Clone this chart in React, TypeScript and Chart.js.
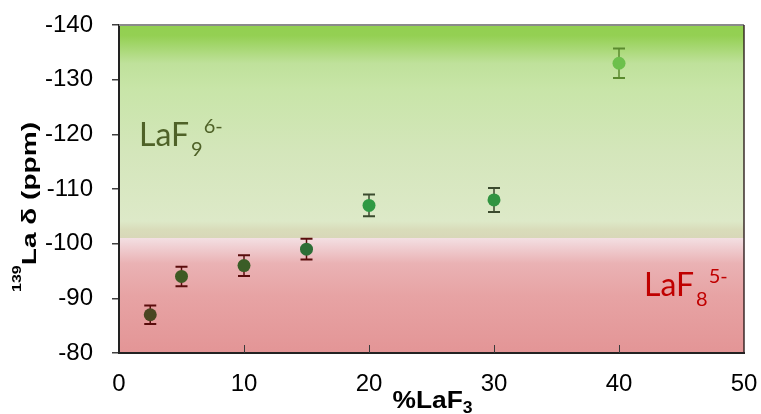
import { useEffect, useRef } from 'react';
import { Chart, registerables } from 'chart.js';

Chart.register(...registerables);

// ---- data ----
const xPercent = [2.5, 5, 10, 15, 20, 30, 40];
const shiftPpm = [-87, -94, -96, -99, -107, -108, -133];
const errorPpm = [1.7, 1.8, 1.9, 1.9, 2.0, 2.2, 2.7];
const pointColors = ['#4a4622', '#3e5a24', '#3b5d27', '#2d6e37', '#2f9943', '#319441', '#6cc04c'];
const errorColors = ['#5a0c0c', '#5a0c0c', '#5a0c0c', '#5a0c0c', '#3b4a2e', '#3b4a2e', '#5a8a2e'];
const xRange = [0, 50];
const yRange = [-140, -80];
const tickStep = 10;
const regionBoundary = -101;
const regionLabels = [
  { base: 'LaF', sub: '9', sup: '6-', x: 1.6, y: -117.9, color: '#4f6228' },
  { base: 'LaF', sub: '8', sup: '5-', x: 42, y: -90.5, color: '#c00000' },
];
const yTitleSup = '139';
const yTitleMain = 'La δ (ppm)';
const xTitleMain = '%LaF';
const xTitleSub = '3';

const SANS = '"Liberation Sans", Arial, sans-serif';
const LABEL_FONT = 'Lato, "Open Sans", sans-serif';

const decorPlugin = {
  id: 'decor',
  beforeDraw(chart: any) {
    const { ctx, chartArea: a, scales } = chart;
    const y = scales.y;
    const top = a.top;
    const h = a.bottom - a.top;
    const fb = (y.getPixelForValue(regionBoundary) - top) / h;
    const g = ctx.createLinearGradient(0, top, 0, a.bottom);
    const greenStops: [number, string][] = [
      [0, '#92d050'], [0.05, '#94d053'], [0.18, '#bfe19b'], [0.3, '#c8e5a8'],
      [0.6, '#d4e6bb'], [0.92, '#dde9c8'], [0.96, '#d9dcba'], [1, '#d8d7b8'],
    ];
    const redStops: [number, string][] = [
      [0, '#f3dfe2'], [0.1, '#efcacd'], [0.22, '#eab2b4'], [0.5, '#e7a3a4'], [1, '#e39596'],
    ];
    for (const [f, c] of greenStops) g.addColorStop(f * fb, c);
    for (const [f, c] of redStops) g.addColorStop(fb + f * (1 - fb), c);
    ctx.save();
    ctx.fillStyle = g;
    ctx.fillRect(a.left, top, a.right - a.left, h);
    ctx.restore();
  },
  beforeDatasetsDraw(chart: any) {
    const { ctx, chartArea: a, scales } = chart;
    const xs = scales.x;
    const ys = scales.y;
    ctx.save();
    // inward x tick marks
    ctx.strokeStyle = '#3a3a3a';
    ctx.lineWidth = 1;
    for (const t of xs.ticks) {
      if (t.value <= xRange[0] || t.value >= xRange[1]) continue;
      const px = Math.round(xs.getPixelForValue(t.value)) + 0.5;
      ctx.beginPath();
      ctx.moveTo(px, a.bottom);
      ctx.lineTo(px, a.bottom - 8);
      ctx.stroke();
    }
    // top and right frame
    ctx.strokeStyle = '#8a8a8a';
    ctx.lineWidth = 2;
    ctx.beginPath();
    ctx.moveTo(a.left, a.top);
    ctx.lineTo(a.right, a.top);
    ctx.stroke();
    ctx.strokeStyle = 'rgba(45,30,30,0.7)';
    ctx.beginPath();
    ctx.moveTo(a.right, a.top);
    ctx.lineTo(a.right, a.bottom);
    ctx.stroke();
    // error bars
    for (let i = 0; i < xPercent.length; i++) {
      const px = xs.getPixelForValue(xPercent[i]);
      const y1 = ys.getPixelForValue(shiftPpm[i] - errorPpm[i]);
      const y2 = ys.getPixelForValue(shiftPpm[i] + errorPpm[i]);
      ctx.strokeStyle = errorColors[i];
      ctx.lineWidth = 1.5;
      ctx.beginPath();
      ctx.moveTo(px, y1);
      ctx.lineTo(px, y2);
      ctx.stroke();
      ctx.lineWidth = 2;
      ctx.beginPath();
      ctx.moveTo(px - 6, y1);
      ctx.lineTo(px + 6, y1);
      ctx.moveTo(px - 6, y2);
      ctx.lineTo(px + 6, y2);
      ctx.stroke();
    }
    ctx.restore();
  },
  afterDraw(chart: any) {
    const { ctx, chartArea: a, scales } = chart;
    const xs = scales.x;
    const ys = scales.y;
    ctx.save();
    ctx.textBaseline = 'alphabetic';
    ctx.textAlign = 'left';
    // region labels
    for (const lab of regionLabels) {
      const x0 = xs.getPixelForValue(lab.x);
      const b = ys.getPixelForValue(lab.y);
      ctx.fillStyle = lab.color;
      ctx.font = `32px ${LABEL_FONT}`;
      ctx.fillText(lab.base, x0, b);
      const w1 = ctx.measureText(lab.base).width;
      ctx.font = `20px ${LABEL_FONT}`;
      ctx.fillText(lab.sub, x0 + w1 + 2, b + 10);
      const w2 = ctx.measureText(lab.sub).width;
      ctx.fillText(lab.sup, x0 + w1 + 2 + w2 + 1, b - 12.5);
    }
    // y axis title (rotated)
    ctx.fillStyle = '#000';
    ctx.font = `bold 12px ${SANS}`;
    const ws = ctx.measureText(yTitleSup).width;
    ctx.font = `bold 21px ${SANS}`;
    const wm = ctx.measureText(yTitleMain).width;
    const total = ws + wm;
    const sy = 170 / total;
    ctx.save();
    ctx.translate(36, (a.top + a.bottom) / 2 + 18);
    ctx.rotate(-Math.PI / 2);
    ctx.scale(sy, 1);
    ctx.font = `bold 12px ${SANS}`;
    ctx.fillText(yTitleSup, -total / 2, -15);
    ctx.font = `bold 21px ${SANS}`;
    ctx.fillText(yTitleMain, -total / 2 + ws, 0);
    ctx.restore();
    // x axis title
    ctx.font = `bold 24px ${SANS}`;
    const xm = ctx.measureText(xTitleMain).width;
    ctx.font = `bold 16px ${SANS}`;
    const xsw = ctx.measureText(xTitleSub).width;
    const xt = xm + xsw;
    const sx = 80 / xt;
    ctx.save();
    ctx.translate((a.left + a.right) / 2 + 1, 408);
    ctx.scale(sx, 1);
    ctx.font = `bold 24px ${SANS}`;
    ctx.fillText(xTitleMain, -xt / 2, 0);
    ctx.font = `bold 16px ${SANS}`;
    ctx.fillText(xTitleSub, -xt / 2 + xm, 5);
    ctx.restore();
    ctx.restore();
  },
};

export default function App() {
  const ref = useRef<HTMLCanvasElement | null>(null);

  useEffect(() => {
    if (!ref.current) return;
    const chart = new Chart(ref.current, {
      type: 'scatter',
      data: {
        datasets: [
          {
            data: xPercent.map((x, i) => ({ x, y: shiftPpm[i] })),
            pointRadius: 6.5,
            pointBackgroundColor: pointColors,
            pointBorderWidth: 0,
            showLine: false,
          },
        ],
      },
      options: {
        responsive: false,
        animation: false,
        events: [],
        layout: { padding: { top: 25, right: 17, left: 0, bottom: 0 } },
        plugins: { legend: { display: false }, tooltip: { enabled: false } },
        scales: {
          x: {
            type: 'linear',
            min: xRange[0],
            max: xRange[1],
            ticks: {
              stepSize: tickStep,
              color: '#000',
              font: { family: SANS, size: 24 },
              padding: 17,
              maxRotation: 0,
              autoSkip: false,
            },
            grid: { display: false, drawTicks: false },
            border: { display: true, color: '#222', width: 2 },
            afterFit: (s: any) => {
              s.height = 61;
              s.paddingLeft = 0;
              s.paddingRight = 0;
            },
          },
          y: {
            type: 'linear',
            reverse: true,
            min: yRange[0],
            max: yRange[1],
            ticks: {
              stepSize: tickStep,
              color: '#000',
              font: { family: SANS, size: 24 },
              padding: 19,
            },
            grid: { drawOnChartArea: false, drawTicks: true, tickLength: 7, color: '#404040', lineWidth: 1.5 },
            border: { display: true, color: '#222', width: 2 },
            afterFit: (s: any) => {
              s.width = 119;
              s.paddingTop = 0;
              s.paddingBottom = 0;
            },
          },
        },
      },
      plugins: [decorPlugin],
    } as any);
    return () => chart.destroy();
  }, []);

  return (
    <div style={{ position: 'fixed', left: 0, top: 0, width: 761, height: 414, background: '#fff' }}>
      <canvas ref={ref} width={761} height={414} style={{ display: 'block' }} />
    </div>
  );
}
